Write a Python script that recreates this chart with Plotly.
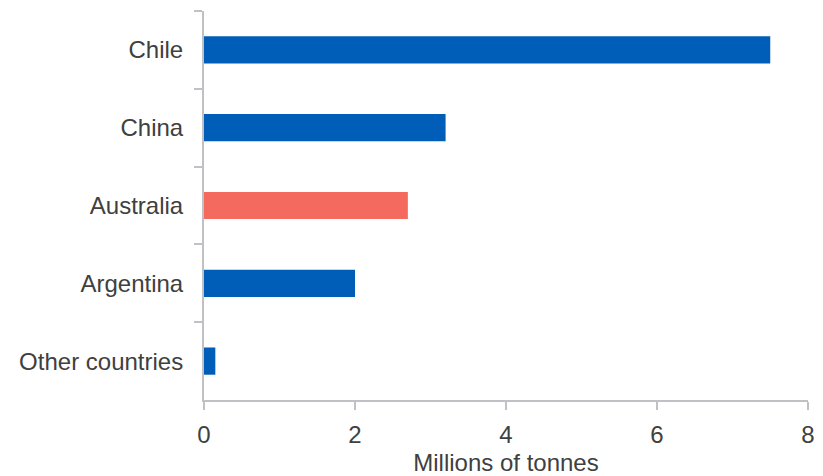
import plotly.graph_objects as go

categories = ["Chile", "China", "Australia", "Argentina", "Other countries"]
values = [7.5, 3.2, 2.7, 2.0, 0.15]
bar_colors = ["#005EB8", "#005EB8", "#F46A5E", "#005EB8", "#005EB8"]
x_ticks = [0, 2, 4, 6, 8]
x_title = "Millions of tonnes"

axis_grey = "#BFC1C4"
text_col = "#404040"
font_family = "Liberation Sans, Arial, sans-serif"

fig = go.Figure(go.Bar(
    y=categories, x=values, orientation="h",
    marker=dict(color=bar_colors, line=dict(width=0)),
))

fig.update_layout(
    width=823, height=476,
    margin=dict(l=204, r=15, t=11, b=76),
    plot_bgcolor="white", paper_bgcolor="white",
    bargap=0.65, showlegend=False,
    font=dict(family=font_family, size=24, color=text_col),
)
fig.update_yaxes(
    type="category", autorange="reversed", automargin=False,
    categoryorder="array", categoryarray=categories,
    showline=True, linecolor=axis_grey, linewidth=2,
    ticks="outside", tickson="boundaries", ticklen=8, tickwidth=2, tickcolor=axis_grey,
    showgrid=False, ticklabelstandoff=14,
    tickfont=dict(size=24, color=text_col),
)
fig.update_xaxes(
    range=[0, 8], tickvals=x_ticks, ticktext=[str(v) for v in x_ticks],
    automargin=False,
    showline=True, linecolor=axis_grey, linewidth=2,
    ticks="outside", ticklen=8, tickwidth=2, tickcolor=axis_grey,
    showgrid=False, zeroline=False, ticklabelstandoff=4,
    tickfont=dict(size=24, color=text_col),
    title=dict(text=x_title, font=dict(size=24, color=text_col), standoff=12),
)

fig.write_html("out.html")
